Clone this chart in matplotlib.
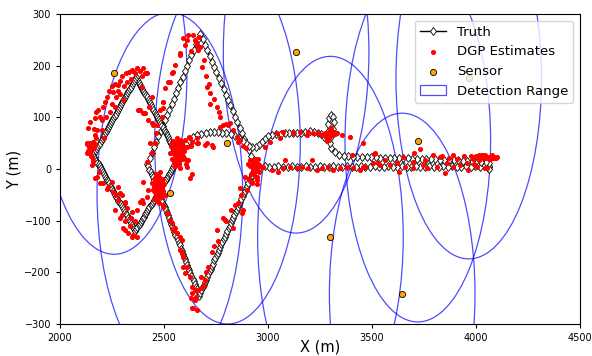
import numpy as np
import matplotlib
matplotlib.use("Agg")
import matplotlib.pyplot as plt
from matplotlib.patches import Ellipse

# ---------------- sensors ----------------
sensor_x = [2260, 3135, 2805, 2528, 3300, 3645, 3720, 3965]
sensor_y = [185, 226, 50, -47, -132, -242, 54, 176]
det_range = 350

# ---------------- truth, target A ----------------
# bottom lane (east end -> big diamond right corner)
laneA_x = [4062, 4058, 4064, 4060, 4040, 4018, 3996, 3974, 3952, 3930, 3908, 3886, 3864, 3842,
           3820, 3798, 3776, 3754, 3732, 3710, 3688, 3666, 3644, 3622, 3600, 3578, 3556, 3534,
           3512, 3490, 3468, 3446, 3424, 3402, 3380, 3358, 3336, 3314, 3292, 3270, 3248, 3226,
           3204, 3182, 3160, 3138, 3116, 3094, 3072, 3050, 3028, 3006, 2984, 2962, 2940]
laneA_y = [4, 2, 6, 0, 5, 4, 5, 4, 5, 4, 4, 5, 4, 5,
           4, 4, 5, 4, 4, 5, 4, 4, 5, 4, 4, 5, 4, 4,
           5, 4, 4, 5, 4, 4, 5, 4, 4, 5, 4, 4, 5, 4,
           4, 5, 4, 4, 5, 4, 4, 5, 4, 4, 5, 4, 5]
# big diamond: right -> top -> left
bigA_x = [2929, 2918, 2907, 2896, 2885, 2874, 2863, 2852, 2841, 2830, 2819, 2808, 2797, 2786,
          2774, 2763, 2752, 2741, 2730, 2719, 2708, 2697, 2686, 2675,
          2664, 2654, 2643, 2632, 2622, 2611, 2601, 2590, 2579, 2569, 2558, 2548, 2537, 2526,
          2516, 2505, 2494, 2484, 2473, 2463, 2452, 2441, 2431, 2420]
bigA_y = [16, 26, 37, 48, 59, 69, 80, 91, 101, 112, 123, 133, 144, 155,
          166, 176, 187, 198, 208, 219, 230, 240, 251, 262,
          252, 241, 231, 220, 210, 199, 189, 178, 168, 157, 147, 136, 126, 115,
          105, 94, 84, 73, 63, 52, 42, 31, 21, 10]
# big diamond: left -> bottom -> right
bigB_x = [2425, 2430, 2436, 2441, 2446, 2451, 2456, 2461, 2467, 2472, 2477, 2482, 2487, 2492,
          2498, 2503, 2508, 2513, 2518, 2523, 2529, 2534, 2539, 2544, 2549, 2554, 2560, 2565,
          2570, 2575, 2580, 2585, 2591, 2596, 2601, 2606, 2611, 2616, 2622, 2627, 2632, 2637,
          2642, 2647, 2653, 2658, 2663, 2668,
          2674, 2679, 2685, 2691, 2696, 2702, 2708, 2713, 2719, 2725, 2730, 2736, 2742, 2747,
          2753, 2759, 2764, 2770, 2776, 2781, 2787, 2793, 2798, 2804, 2810, 2815, 2821, 2827,
          2832, 2838, 2844, 2849, 2855, 2861, 2866, 2872, 2878, 2883, 2889, 2895, 2900, 2906,
          2912, 2917, 2923, 2929, 2934, 2940]
bigB_y = [5, -1, -6, -11, -16, -22, -27, -32, -37, -43, -48, -53, -58, -64,
          -69, -74, -80, -85, -90, -95, -101, -106, -111, -117, -122, -127, -132, -138,
          -143, -148, -154, -159, -164, -170, -175, -180, -185, -191, -196, -201, -207, -212,
          -217, -223, -228, -233, -239, -245,
          -240, -235, -229, -224, -219, -214, -209, -203, -198, -193, -188, -183, -177, -172,
          -167, -162, -157, -151, -146, -141, -136, -131, -125, -120, -115, -110, -105, -99,
          -94, -89, -84, -79, -73, -68, -63, -58, -53, -47, -42, -37, -32, -27,
          -21, -16, -11, -6, 0, 5]

# ---------------- truth, target B ----------------
# upper lane, loop and arc (east end -> small diamond right corner)
laneB_x = [4060, 4046, 4024, 4002, 3980, 3958, 3936, 3914, 3892, 3870, 3848, 3826, 3804, 3782,
           3760, 3738, 3716, 3694, 3672, 3650, 3628, 3606, 3584, 3562, 3540, 3518, 3496, 3474,
           3452, 3430, 3408, 3386, 3364, 3342, 3320,
           3305, 3298, 3295, 3292, 3290, 3295, 3303, 3310, 3315, 3312, 3305, 3298,
           3285, 3270, 3255, 3240, 3220, 3200, 3180, 3160, 3140, 3120, 3100, 3080, 3060, 3040,
           3020, 3000, 2985, 2970, 2955, 2940, 2925, 2910, 2895, 2880, 2860, 2840, 2820, 2800,
           2780, 2760, 2740, 2720, 2700, 2680, 2660, 2640, 2620, 2605, 2592, 2580, 2570]
laneB_y = [12, 13, 14, 15, 15, 16, 16, 17, 17, 18, 18, 18, 19, 19,
           19, 20, 20, 20, 21, 21, 21, 22, 22, 22, 22, 23, 23, 23,
           23, 24, 24, 25, 26, 28, 32,
           40, 50, 62, 75, 88, 98, 104, 100, 90, 78, 68, 60,
           58, 62, 68, 70, 72, 74, 72, 70, 70, 70, 70, 70, 68, 68,
           66, 64, 58, 52, 46, 43, 42, 45, 50, 55, 60, 64, 67, 69,
           70, 71, 71, 71, 70, 68, 65, 61, 55, 48, 40, 32, 24]
# small diamond: right -> top -> left -> bottom -> right
smallD_x = [2565, 2560, 2555, 2549, 2544, 2539, 2534, 2529, 2524, 2519, 2513, 2508, 2503, 2498,
            2493, 2488, 2483, 2478, 2472, 2467, 2462, 2457, 2452, 2447, 2442, 2437, 2431, 2426,
            2421, 2416, 2411, 2406, 2401, 2396, 2390, 2385, 2380, 2375, 2370, 2365,
            2360, 2355, 2350, 2345, 2339, 2334, 2329, 2324, 2319, 2314, 2309, 2303, 2298, 2293,
            2288, 2283, 2278, 2273, 2268, 2262, 2257, 2252, 2247, 2242, 2237, 2232, 2227, 2221,
            2216, 2211, 2206, 2201, 2196, 2191, 2186, 2180, 2175, 2170, 2165, 2160,
            2165, 2170, 2175, 2180, 2185, 2190, 2195, 2200, 2205, 2211, 2216, 2221, 2226, 2231,
            2236, 2241, 2246, 2251, 2256, 2261, 2266, 2271, 2276, 2281, 2286, 2291, 2296, 2301,
            2306, 2312, 2317, 2322, 2327, 2332, 2337, 2342, 2347, 2352, 2357, 2362,
            2367, 2372, 2378, 2383, 2388, 2393, 2398, 2404, 2409, 2414, 2419, 2424, 2430, 2435,
            2440, 2445, 2450, 2456, 2461, 2466, 2471, 2476, 2482, 2487, 2492, 2497, 2502, 2508,
            2513, 2518, 2523, 2528, 2534, 2539, 2544, 2549, 2554, 2560, 2565, 2570]
smallD_y = [26, 30, 34, 37, 41, 45, 49, 53, 57, 61, 65, 69, 73, 76,
            80, 84, 88, 92, 96, 100, 104, 108, 112, 115, 119, 123, 127, 131,
            135, 139, 143, 147, 151, 154, 158, 162, 166, 170, 174, 178,
            174, 170, 166, 163, 159, 155, 151, 148, 144, 140, 136, 133, 129, 125,
            121, 118, 114, 110, 106, 103, 99, 95, 91, 87, 84, 80, 76, 72,
            69, 65, 61, 57, 54, 50, 46, 42, 39, 35, 31, 27,
            23, 20, 16, 12, 9, 5, 1, -2, -6, -10, -13, -17, -21, -24,
            -28, -32, -35, -39, -43, -46, -50, -54, -57, -61, -65, -68, -72, -76,
            -79, -83, -87, -90, -94, -98, -101, -105, -109, -112, -116, -120,
            -116, -113, -109, -106, -102, -99, -95, -92, -88, -85, -81, -77, -74, -70,
            -67, -63, -60, -56, -53, -49, -46, -42, -38, -35, -31, -28, -24, -21,
            -17, -14, -10, -7, -3, 0, 4, 8, 11, 15, 18, 22]

# ---------------- DGP estimates ----------------
est_x = [
    # small diamond, left corner and upper-left edge
    2132, 2138, 2145, 2150, 2142, 2155, 2160, 2135, 2148, 2165, 2170, 2158, 2152, 2175, 2168,
    2180, 2162, 2135, 2145, 2168, 2182, 2190, 2200, 2175, 2130, 2130, 2154,
    2205, 2215, 2225, 2235, 2255, 2250, 2265, 2279, 2290, 2300, 2322, 2315, 2330, 2345, 2361,
    2370, 2385, 2399, 2410, 2418, 2392, 2340, 2352, 2308, 2280,
    2220, 2240, 2264, 2303, 2290, 2270, 2250, 2200, 2210,
    2394, 2375, 2409, 2423, 2442, 2430, 2440, 2457, 2442, 2460, 2399, 2385, 2447, 2495, 2433,
    # lower-left edge
    2168, 2192, 2231, 2250, 2279, 2298, 2313, 2346, 2303, 2327, 2351, 2370, 2370, 2385, 2399,
    2177, 2205, 2226, 2255, 2270, 2288, 2279, 2313, 2320, 2300, 2310, 2313, 2346, 2335, 2185,
    2265, 2290, 2394, 2418, 2399, 2423, 2418, 2340, 2360,
    # crossing cluster
    2455, 2460, 2465, 2470, 2475, 2480, 2485, 2490, 2458, 2462, 2468, 2472, 2478, 2483, 2488,
    2450, 2456, 2463, 2470, 2476, 2482, 2489, 2495, 2452, 2460, 2467, 2474, 2481, 2487, 2466,
    2471, 2477, 2462, 2484, 2492, 2445, 2500, 2481, 2495, 2505, 2440,
    # small diamond right corner cluster
    2540, 2545, 2550, 2555, 2560, 2565, 2570, 2575, 2580, 2585, 2548, 2553, 2558, 2563, 2568,
    2573, 2578, 2543, 2556, 2566, 2576, 2586, 2590, 2595, 2552, 2562, 2572, 2582, 2530, 2535,
    2600, 2605, 2545, 2560, 2575, 2585, 2611, 2616, 2577, 2625, 2635,
    # big diamond upper-left edge and top
    2466, 2481, 2497, 2521, 2545, 2577, 2593, 2617, 2641, 2673, 2683, 2600, 2610, 2650, 2660,
    2665, 2630, 2553, 2529, 2505, 2538, 2577, 2490, 2495, 2655, 2668,
    # big diamond upper-right edge
    2705, 2721, 2740, 2753, 2770, 2785, 2800, 2833, 2865, 2690, 2700, 2715, 2765, 2720, 2817,
    # arc
    2611, 2630, 2659, 2664, 2697, 2705, 2731, 2737, 2769, 2808, 2851, 2856, 2601, 2590, 2620,
    2880, 2895, 2635, 2538, 2577, 2625, 2659,
    # big diamond right corner cluster
    2928, 2935, 2945, 2920, 2915, 2940, 2950, 2955, 2930, 2925, 2910, 2945, 2960, 2938, 2905,
    2950, 2889, 2865, 2913, 2971, 2932, 2942, 2922, 2948, 2936,
    # big diamond lower edges
    2497, 2515, 2529, 2545, 2563, 2587, 2577, 2591, 2611, 2625, 2635, 2641, 2659, 2664, 2519,
    2538, 2553, 2577, 2587, 2591, 2601, 2635, 2649, 2630, 2650,
    2680, 2697, 2713, 2730, 2753, 2793, 2832, 2875, 2880, 2856, 2899, 2923, 2947, 2760, 2800,
    2840, 2870, 2700, 2690, 2655, 2820, 2680, 2785, 2740, 2635,
    # upper lane around y=68 and the loop
    3010, 2986, 3058, 3072, 3120, 3154, 3192, 3216, 3240, 3260, 3274, 3332, 3356, 3394, 3043,
    3188, 3290, 3300, 3310, 3295, 3305, 3285, 3315, 3278, 3322, 3300, 3292, 3308,
    # bottom lane
    2928, 2976, 3019, 3048, 3072, 3106, 3140, 3164, 3192, 3236, 3260, 3288, 3313, 3346, 3380,
    3409, 3442, 3466, 3082, 3212, 3457, 3505, 3587, 3620, 3659, 3697, 3745, 3764, 3813, 3861,
    3889, 3923, 3962, 4005, 4053, 3539, 3529, 3697, 3957, 4043, 3990, 3850, 3630,
    # upper lane east of loop and the east end cluster
    3404, 3457, 3514, 3649, 3731, 3793, 3827, 3889, 3837, 3755, 3620, 3562, 3510, 3909, 3700,
    3995, 4005, 4012, 4020, 4028, 4035, 4042, 4050, 4058, 4065, 4072, 4080, 4088, 4095, 4101,
    4000, 4015, 4030, 4045, 4060, 4075, 4090, 3975, 3985, 3940, 3870]
est_y = [
    48, 42, 50, 38, 30, 45, 52, 35, 25, 40, 48, 15, 8, 60, 66,
    75, 78, 79, 90, 99, 114, 100, 95, 110, 50, 31, 23,
    120, 130, 140, 150, 149, 160, 165, 163, 170, 180, 168, 185, 188, 192, 186,
    195, 190, 196, 185, 186, 180, 175, 190, 160, 150,
    100, 110, 120, 134, 145, 140, 125, 75, 60,
    159, 114, 108, 95, 89, 120, 140, 50, 31, 70, 108, 114, 85, 118, 50,
    -18, -27, -35, -25, -35, -50, -64, -83, -114, -124, -128, -131, -79, -64, -66,
    -16, -28, -38, -44, -50, -47, -60, -66, -75, -90, -100, -118, -131, -110, -5,
    -80, -95, -60, -54, -25, -40, 14, -95, -100,
    -20, -28, -35, -42, -50, -25, -32, -38, -45, -52, -30, -40, -22, -48, -55,
    -35, -18, -27, -33, -44, -36, -24, -42, -58, -38, -60, -15, -46, -54, -62,
    -12, -65, -10, -30, -20, -40, -30, -6, -70, -50, -28,
    20, 30, 40, 28, 35, 45, 25, 38, 30, 20, 12, 18, 50, 22, 42,
    15, 32, 35, 8, 55, 48, 40, 25, 35, 5, 15, 10, 28, 30, 45,
    20, 10, 55, 60, 2, 50, 4, 17, 56, -17, -10,
    85, 114, 130, 168, 188, 224, 253, 259, 259, 236, 197, 240, 250, 250, 240,
    230, 228, 201, 168, 157, 186, 221, 100, 130, 245, 255,
    159, 147, 135, 120, 100, 85, 88, 75, 56, 210, 180, 165, 110, 125, 89,
    43, 45, 50, 50, 46, 50, 46, 43, 81, 85, 62, 52, 56, 45, 62,
    45, 40, 52, 52, 56, 60, 60,
    -2, 5, 0, -10, 5, -15, 10, -5, 15, -25, -20, -30, 5, 20, 10,
    20, -15, -37, 17, 4, -8, 12, 8, -22, -2,
    -73, -85, -99, -118, -124, -137, -157, -170, -190, -209, -228, -269, -273, -234, -85,
    -105, -114, -131, -163, -189, -202, -240, -254, -250, -235,
    -230, -215, -190, -160, -118, -99, -114, -85, -79, -66, -41, -27, -15, -140, -100,
    -70, -50, -200, -225, -248, -80, -210, -95, -150, -269,
    52, 43, 60, 72, 70, 72, 72, 70, 70, 66, 70, 70, 66, 62, 70,
    66, 70, 75, 65, 60, 80, 55, 72, 62, 68, 68, 62, 73,
    2, 4, -2, -6, 2, 4, 2, 4, 2, -2, 2, 4, -2, 2, 4,
    2, -2, 4, 17, 17, 4, 12, 8, 12, 4, 2, 8, 2, 4, 12,
    4, 8, -2, 4, 2, 8, 12, 14, 12, 2, 9, -8, -6,
    27, 50, 31, 23, 39, 27, 23, 27, 25, 17, 12, 17, 29, 20, 30,
    24, 22, 27, 20, 25, 22, 27, 21, 24, 20, 25, 22, 24, 21, 23,
    26, 18, 28, 24, 19, 27, 22, 25, 20, 26, 21]

fig = plt.figure(figsize=(5.92, 3.56), dpi=100)
ax = fig.add_axes([0.1014, 0.0899, 0.8784, 0.8708])

for i, (sx, sy) in enumerate(zip(sensor_x, sensor_y)):
    ax.add_patch(Ellipse((sx, sy), 2 * det_range, 2 * det_range, fill=False,
                         edgecolor="blue", alpha=0.7, lw=0.9,
                         label="Detection Range" if i == 0 else None))

truth_style = dict(color="black", lw=1, marker="d", ms=4.5, mfc="white",
                   mec="black", mew=0.6, zorder=3)
trackA_x = laneA_x + bigA_x + bigB_x
trackA_y = laneA_y + bigA_y + bigB_y
trackB_x = laneB_x + smallD_x
trackB_y = laneB_y + smallD_y
ax.plot(trackA_x, trackA_y, label="Truth", **truth_style)
ax.plot(trackB_x, trackB_y, **truth_style)
ax.scatter(est_x, est_y, s=7, color="red", label="DGP Estimates", zorder=4)
ax.scatter(sensor_x, sensor_y, s=20, color="orange", edgecolors="black", linewidths=0.6,
           label="Sensor", zorder=5)

ax.set_xlim(2000, 4500)
ax.set_ylim(-300, 300)
ax.set_xlabel("X (m)", fontsize=10.5)
ax.xaxis.set_label_coords(0.5, -0.05)
ax.set_ylabel("Y (m)", fontsize=10.5, labelpad=2)
ax.tick_params(labelsize=7, length=3)

h, l = ax.get_legend_handles_labels()
order = ["Truth", "DGP Estimates", "Sensor", "Detection Range"]
hd = dict(zip(l, h))
ax.legend([hd[k] for k in order], order, loc="upper right", fontsize=9.5)

fig.savefig("out.png", dpi=100)
